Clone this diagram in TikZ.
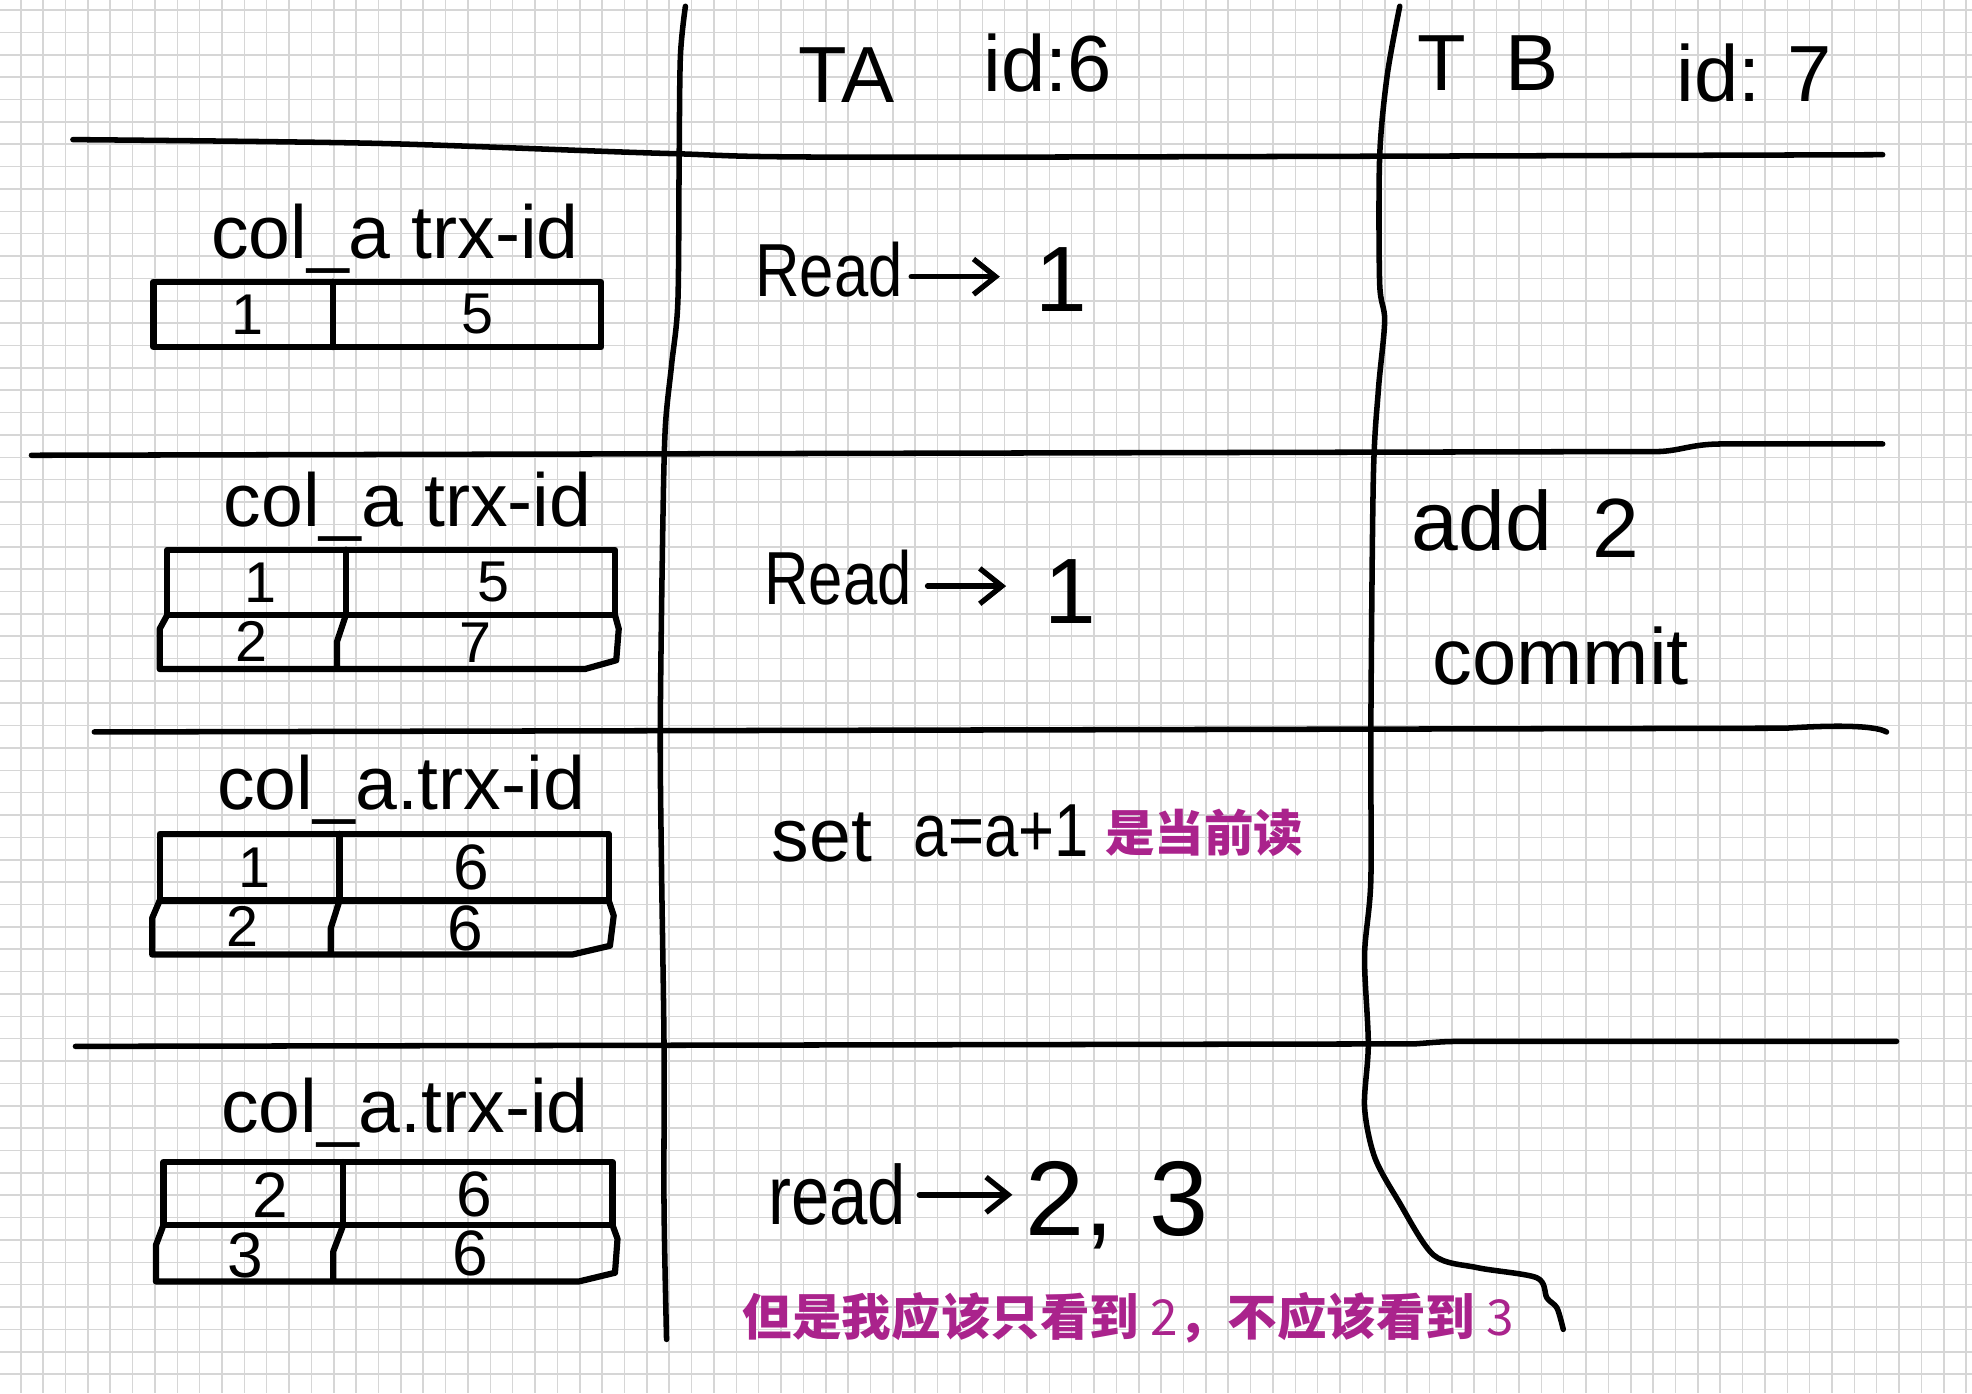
\documentclass[tikz,border=0pt]{standalone}
\usepackage{fontspec}
\usepackage{graphicx}
\setmainfont{Liberation Sans}
\newfontfamily\cjk{Noto Sans CJK SC}
\usetikzlibrary{arrows.meta}
\definecolor{gridc}{RGB}{214,214,214}
\definecolor{pur}{RGB}{170,35,140}
\newcommand\narrow[1]{\scalebox{0.82}[1]{#1}}
\tikzset{
  hand/.style={line width=1.25pt, line cap=round, line join=round, black},
  cell/.style={line width=1.4pt, line join=round, line cap=round, black},
  hw/.style={inner sep=0pt, font=\fontsize{17}{20}\selectfont},
  hdr/.style={inner sep=0pt, font=\fontsize{18}{22}\selectfont},
  val/.style={inner sep=0pt, font=\fontsize{13}{15}\selectfont},
  valb/.style={inner sep=0pt, font=\fontsize{14.5}{16}\selectfont},
  big/.style={inner sep=0pt, font=\fontsize{21}{24}\selectfont},
  note/.style={inner sep=0pt, text=pur, font=\fontsize{11.2}{13}\selectfont\cjk\bfseries},
  harrow/.style={hand, -{Straight Barb[length=5pt,width=8pt,line width=1.2pt]}}
}
\begin{document}
\begin{tikzpicture}[x=0.01cm,y=-0.01cm]
\useasboundingbox (0,0) rectangle (1568,1108);
\fill[white] (0,0) rectangle (1568,1108);
% grid paper
\foreach \i in {0,...,88} \draw[gridc, line width=0.35pt] ({16.5+17.78*\i},0) -- ++(0,1108);
\foreach \i in {0,...,62} \draw[gridc, line width=0.35pt] (0,{8+17.78*\i}) -- ++(1568,0);

% horizontal separators
\draw[hand] plot[smooth] coordinates {(58,111) (300,114) (530,122) (700,125) (1497,123)};
\draw[hand] (25,362) -- (1320,359) .. controls (1338,358) and (1345,353) .. (1370,353) -- (1497,353);
\draw[hand] (75,582) -- (1420,579) .. controls (1450,577) and (1490,576) .. (1500,582);
\draw[hand] (60,832) -- (1125,830) .. controls (1140,829) and (1145,828) .. (1165,828) -- (1508,828);

% vertical separators
\draw[hand] plot[smooth] coordinates {(545,5) (541,45) (540,130) (539,240) (534,290) (529,340) (527,420) (525,580) (526,690) (528,832) (528,960) (530,1065)};
\draw[hand] plot[smooth] coordinates {(1113,5) (1103,60) (1097,125) (1097,225) (1101,255) (1096,310) (1092,380) (1090,580) (1090,700) (1085,760) (1088,830) (1085,880) (1093,920) (1112,955) (1140,998) (1175,1008) (1222,1016) (1230,1032) (1238,1040) (1243,1057)};

% headers
\node[hdr] (ta) at (673,60) {TA};
\node[hdr] (taid) at (833,50) {id:6};
\node[hdr] (tb) at (1183,50) {T\,\,\,B};
\node[hdr] (tbid) at (1395,58) {id:\,\,7};

% ---- row 1 ----
\node[hw] (lab1) at (314,190) {col\_a trx-id};
\draw[cell] (122,224) rectangle (478,276) (265,224) -- (265,276);
\node[val] (v11) at (197,250) {1};
\node[val] (v12) at (380,250) {5};

\node[hw, anchor=west] (rd1) at (600,214) {\narrow{Read}};
\node[big] (o1) at (844,222) {1};

% ---- row 2 ----
\node[hw] (lab2) at (324,403) {col\_a trx-id};
\draw[cell] (133,437) rectangle (489,489) (275,437) -- (275,489);
\draw[cell] (133,489) -- (127,500) -- (127,532) -- (465,532) -- (490,525) -- (492,500) -- (489,489)
            (275,489) -- (268,510) -- (268,532);
\node[val] (v21) at (207,463) {1};
\node[val] (v22) at (392,463) {5};
\node[val] (v23) at (200,510) {2};
\node[val] (v24) at (378,511) {7};

\node[hw, anchor=west] (rd2) at (607,459) {\narrow{Read}};
\node[big] (o2) at (851,470) {1};

% ---- row 3 ----
\node[hw] (lab3) at (319,628) {col\_a.trx-id};
\draw[cell] (127,663) rectangle (484,716) (270,663) -- (270,716);
\draw[cell] (127,716) -- (121,730) -- (121,759) -- (455,759) -- (485,752) -- (488,728) -- (484,716)
            (270,716) -- (263,738) -- (263,759);
\node[val] (v31) at (202,690) {1};
\node[valb] (v32) at (375,690) {6};
\node[val] (v33) at (193,737) {2};
\node[valb] (v34) at (370,738) {6};

\node[hw, anchor=west] (set) at (613,666) {set};
\node[hw, anchor=west] (eq) at (726,661) {\narrow{a=a+1}};
\node[note, anchor=west] (cur) at (878,662) {是当前读};

% ---- row 4 ----
\node[hw] (lab4) at (322,885) {col\_a.trx-id};
\draw[cell] (130,924) rectangle (487,974) (273,924) -- (273,974);
\draw[cell] (130,974) -- (124,990) -- (124,1019) -- (460,1019) -- (489,1012) -- (491,985) -- (487,974)
            (273,974) -- (265,995) -- (265,1019);
\node[valb] (v41) at (215,950) {2};
\node[valb] (v42) at (377,950) {6};
\node[valb] (v43) at (195,998) {3};
\node[valb] (v44) at (374,997) {6};

\node[hw, font=\fontsize{19}{22}\selectfont, anchor=west] (rd4) at (610,950) {\narrow{read}};
\node[big, font=\fontsize{24}{28}\selectfont, anchor=west] (o4) at (815,958) {2,\,\,3};

% arrows
\draw[harrow] (rd1.east) ++(6,6) -- (795,220);
\draw[harrow] (rd2.east) ++(12,7) -- (800,466);
\draw[harrow] (rd4.east) ++(10,0) -- (805,950);

% ---- right column ----
\node[hw, font=\fontsize{19}{22}\selectfont, anchor=west] (add) at (1122,414) {add};
\node[hw, font=\fontsize{19}{22}\selectfont] (two) at (1285,420) {2};
\node[hw, font=\fontsize{18}{22}\selectfont] (commit) at (1241,522) {commit};

% ---- bottom note ----
\node[note, anchor=west] (bottom) at (590,1048) {但是我应该只看到 {\mdseries 2}，不应该看到 {\mdseries 3}};
\end{tikzpicture}
\end{document}
